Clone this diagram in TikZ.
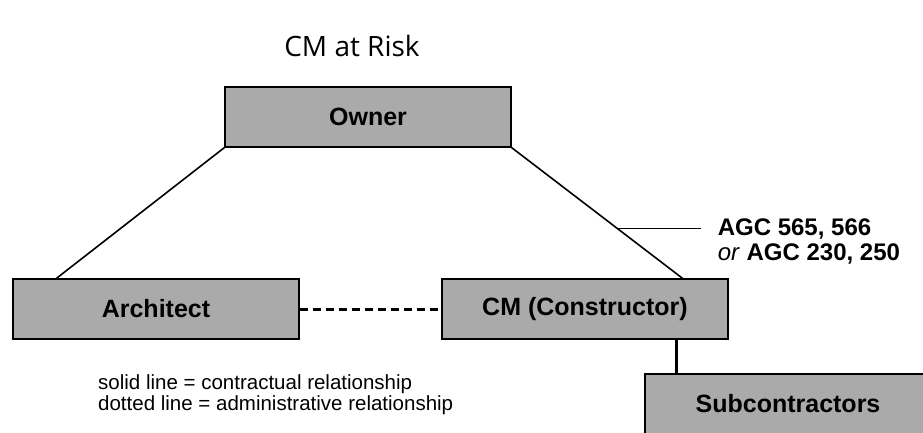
\documentclass[tikz,border=0pt]{standalone}
\usepackage{fontspec}
\setmainfont{Liberation Sans}
\newfontfamily\titlefont{Open Sans}
\definecolor{boxgray}{RGB}{170,170,170}
\begin{document}
\begin{tikzpicture}[x=1pt, y=-1pt,
    party/.style={rectangle, draw=black, line width=1.2pt, fill=boxgray, minimum width=286pt, minimum height=60pt, inner sep=0pt, font=\fontsize{25}{28}\selectfont\bfseries},
    note/.style={anchor=west, align=left, inner sep=0pt}]
        \useasboundingbox (0,0) rectangle (923,433);
        \node [font=\titlefont\fontsize{28}{32}\selectfont] (T) at (352,46) {CM at Risk};

        \node [party] (O) at (368,117) {Owner};
        \node [party] (A) at (156,309) {Architect};
        \node [party] (C) at (585,309) {CM (Constructor)};
        \node [party] (S) at (788,404) {Subcontractors};

        \draw [line width=1.6pt] (O.south west) -- ([xshift=44pt]A.north west);
        \draw [line width=1.6pt] (O.south east) -- coordinate[pos=.62] (K) ([xshift=-46pt]C.north east);
        \draw [line width=3pt, dash pattern=on 8pt off 5pt] (A.east) -- (C.west);
        \coordinate (D) at ([xshift=32pt]S.north west);
        \draw [line width=2.6pt] (D) -- (D |- C.south);

        \draw [line width=0.8pt] (K) -- ++(83,0) coordinate (E);
        \node [note, font=\fontsize{24}{25.5}\selectfont] (L) at ([xshift=17pt, yshift=-13pt]E) {\textbf{AGC 565, 566}\\\textit{or} \textbf{AGC 230, 250}};
        \node [note, font=\fontsize{20.5}{21}\selectfont] (N) at (98,395) {solid line = contractual relationship\\dotted line = administrative relationship};
    \end{tikzpicture}
\end{document}
